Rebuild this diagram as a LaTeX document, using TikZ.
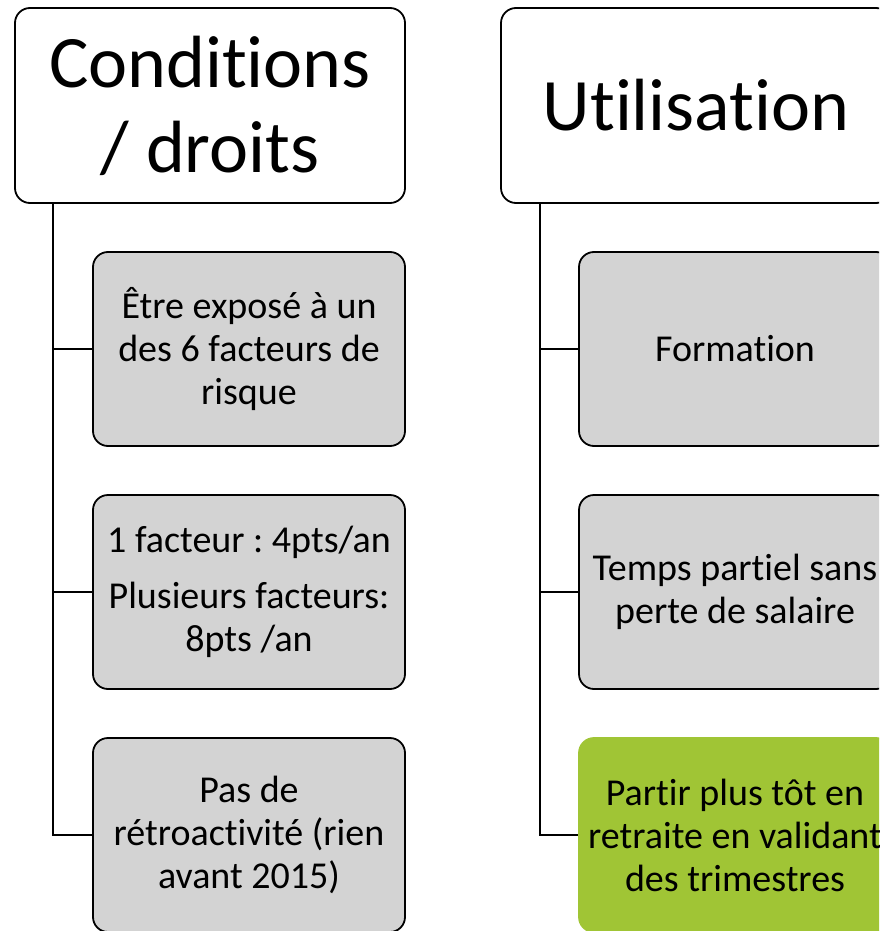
\documentclass[tikz,border=0pt]{standalone}
\usepackage{fontspec}
\setmainfont{Carlito}[Ligatures=NoCommon]
\frenchspacing
\definecolor{boxgray}{HTML}{D3D3D3}
\definecolor{leafgreen}{HTML}{A0C535}
\tikzset{
  x=1pt, y=-1pt,
  headbox/.style={draw=black, line width=1.8pt, fill=white, rounded corners=15pt,
    minimum width=390pt, minimum height=195pt, align=center,
    font=\fontsize{74}{85}\selectfont},
  itembox/.style={draw=black, line width=1.8pt, fill=boxgray, rounded corners=15pt,
    minimum width=312pt, minimum height=194pt, align=center,
    font=\fontsize{38}{43}\selectfont},
  greenbox/.style={itembox, draw=leafgreen, fill=leafgreen},
  link/.style={draw=black, line width=2pt}
}
\begin{document}
\begin{tikzpicture}
\useasboundingbox (0,0) rectangle (879,931);
\clip (0,0) rectangle (879,931);

% left column: conditions
\node[headbox] (lh) at (210,105.5) {Conditions\\/ droits};
\node[itembox] (l1) at (249,349) {Être exposé à un\\des 6 facteurs de\\risque};
\node[itembox] (l2) at (249,592) {1 facteur : 4pts/an\\[13pt]Plusieurs facteurs:\\8pts /an};
\node[itembox] (l3) at (249,835) {Pas de\\rétroactivité (rien\\avant 2015)};

% right column: use
\node[headbox] (rh) at (696,105.5) {Utilisation};
\node[itembox] (r1) at (735,349) {Formation};
\node[itembox] (r2) at (735,592) {Temps partiel sans\\perte de salaire};
\node[greenbox] (r3) at (735,835) {Partir plus tôt en\\retraite en validant\\des trimestres};

% trunks and branches
\coordinate (ltop) at (53,203);
\coordinate (rtop) at (540,203);
\draw[link] (ltop) |- (l3.west);
\draw[link] (ltop |- l1.west) -- (l1.west);
\draw[link] (ltop |- l2.west) -- (l2.west);
\draw[link] (rtop) |- (r3.west);
\draw[link] (rtop |- r1.west) -- (r1.west);
\draw[link] (rtop |- r2.west) -- (r2.west);
\end{tikzpicture}
\end{document}
